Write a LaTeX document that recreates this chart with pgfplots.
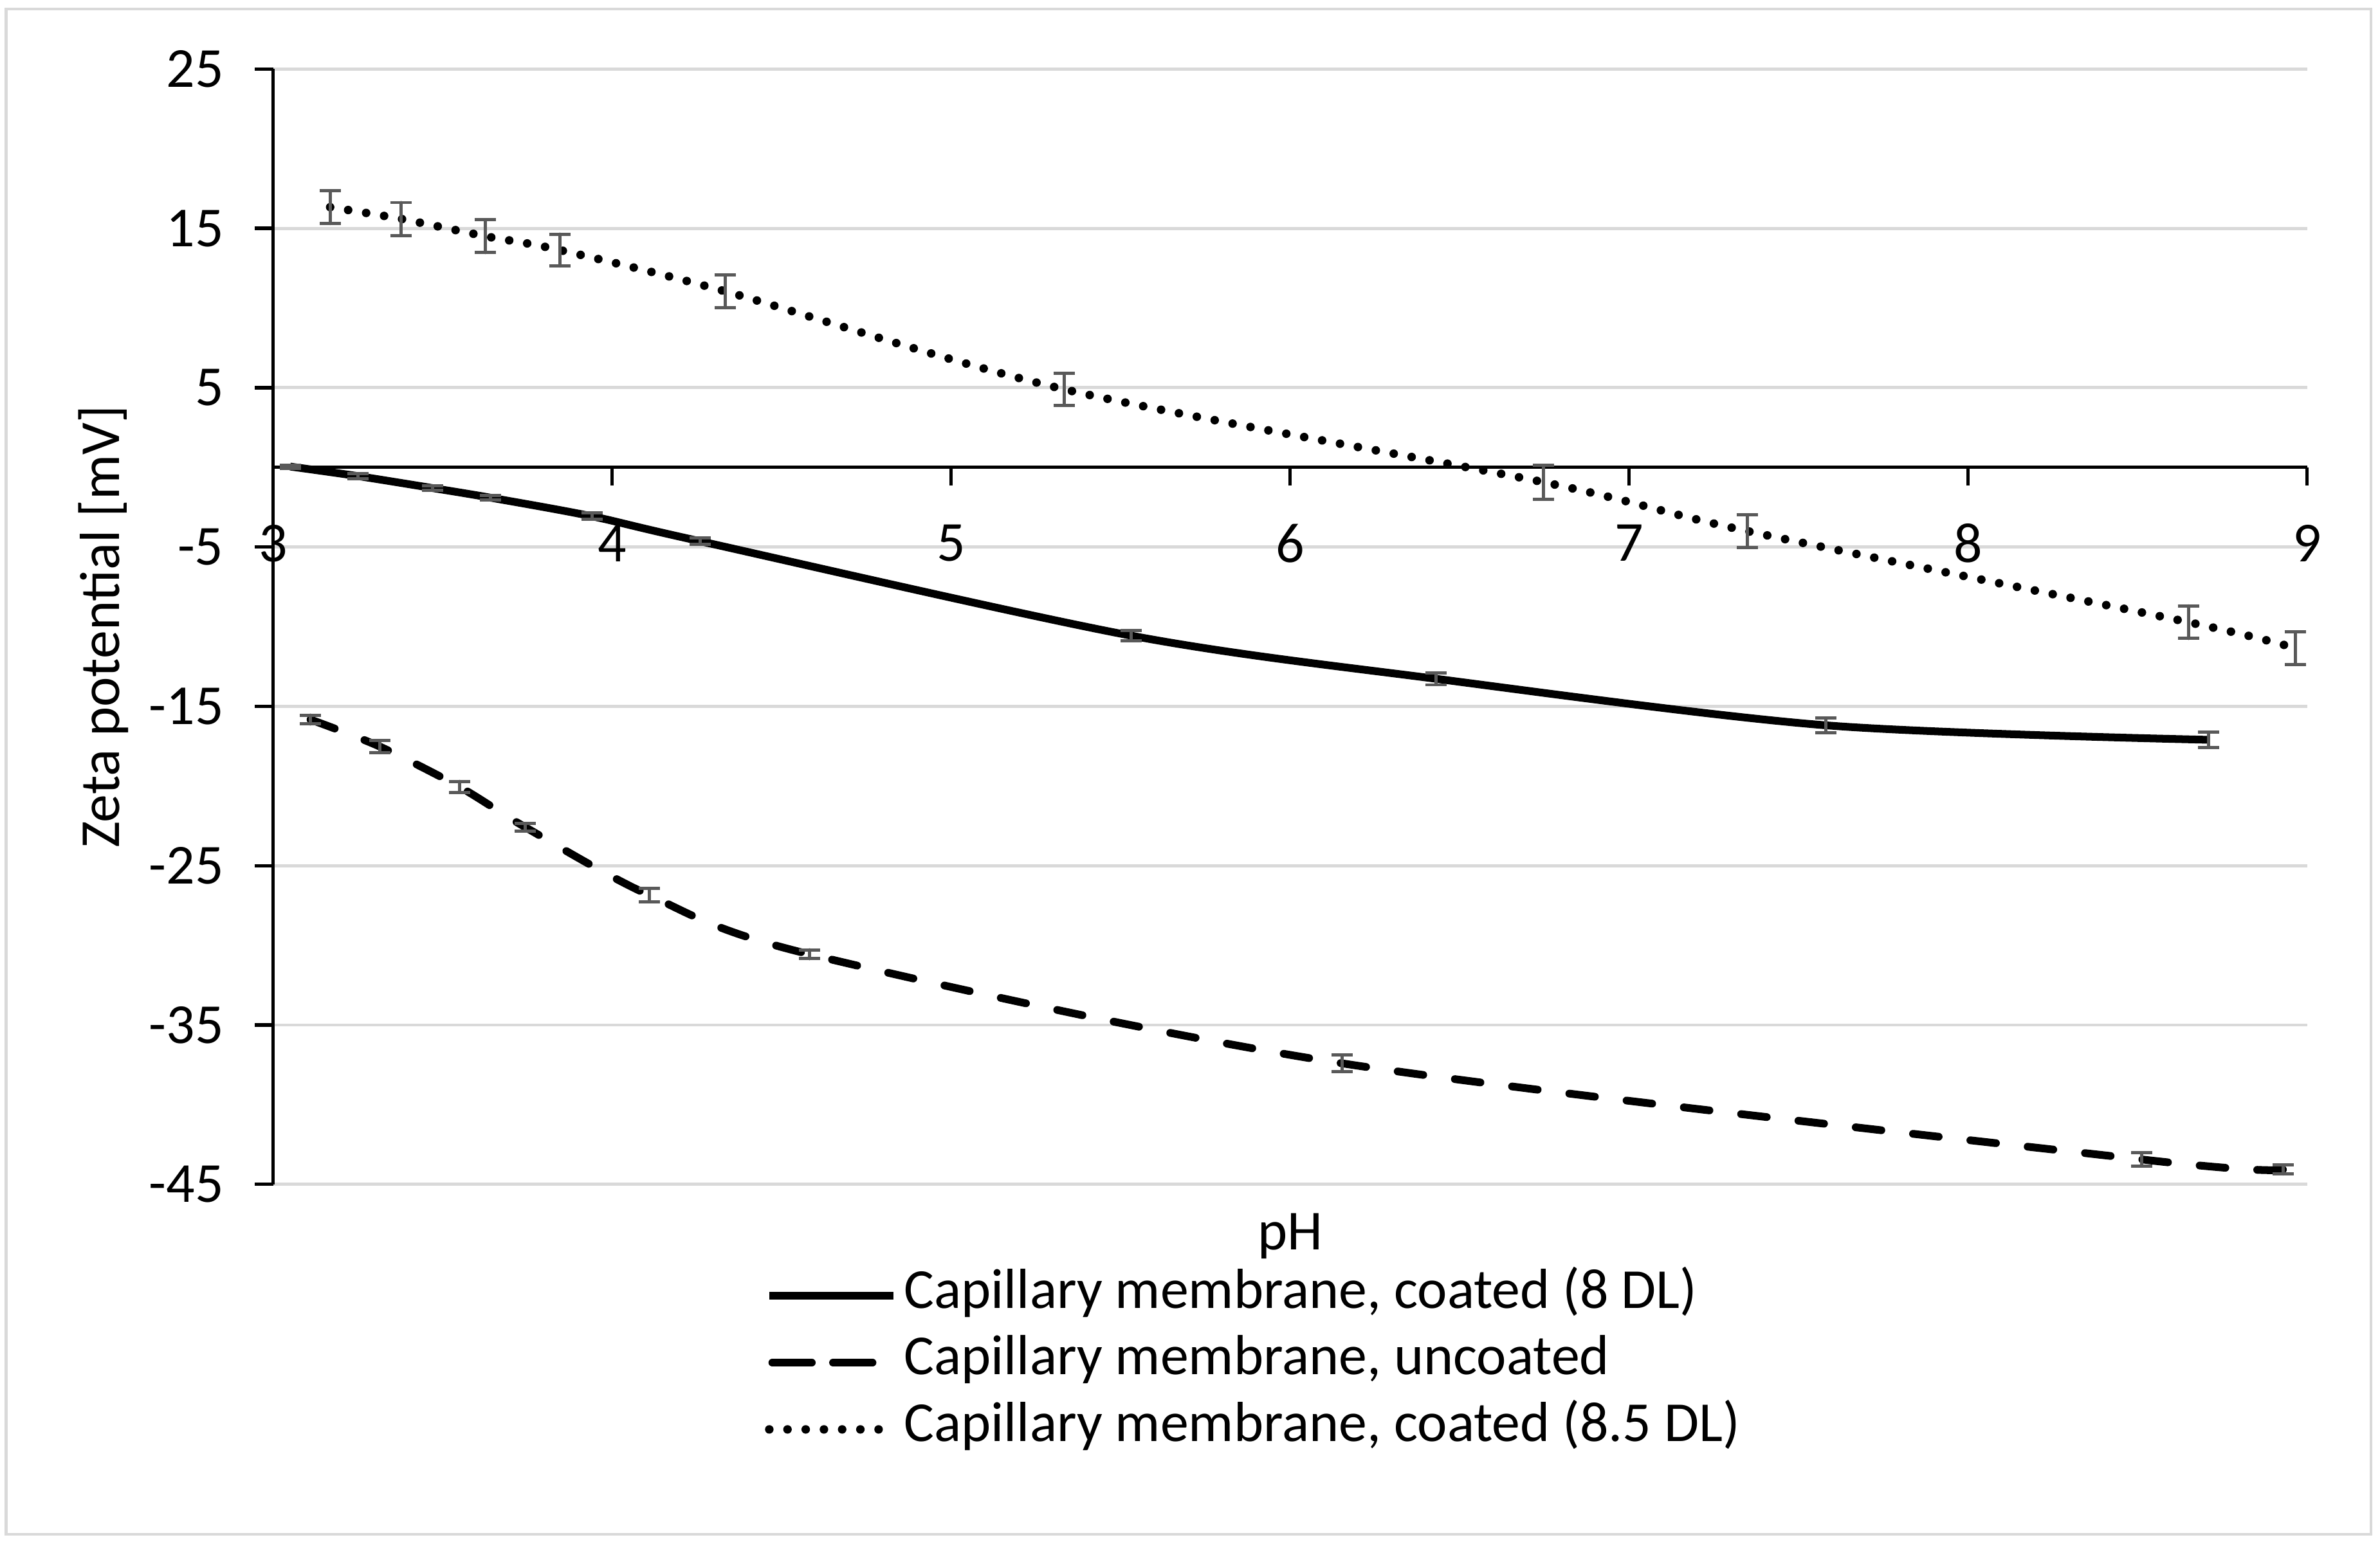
\documentclass[border=0pt]{standalone}
\usepackage{pgfplots}
\pgfplotsset{compat=1.18}
\usepackage{pgfplotstable}
\usepackage{fontspec}
\setmainfont{Carlito}
\definecolor{gridgray}{HTML}{D9D9D9}
\definecolor{errgray}{HTML}{595959}

\pgfplotsset{dashlegend/.style={legend image code/.code={\draw[black, line width=1.45pt, line cap=round, dash pattern=on 2.6mm off 1.4mm] (0.2mm,0mm) -- (8.0mm,0mm);}}}

\pgfplotstableread{
x y e
3.05 0.05 0.10
3.25 -0.55 0.15
3.47 -1.30 0.15
3.64 -1.90 0.15
3.94 -3.07 0.20
4.26 -4.64 0.20
5.53 -10.56 0.34
6.43 -13.27 0.38
7.58 -16.19 0.45
8.71 -17.10 0.48
}\coatedA

\pgfplotstableread{
x y e
3.110 -15.83 0.28
3.315 -17.53 0.38
3.550 -20.06 0.35
3.744 -22.59 0.23
4.109 -26.85 0.42
4.582 -30.56 0.28
6.154 -37.41 0.52
8.512 -43.44 0.42
8.929 -44.07 0.28
}\uncoated

\pgfplotstableread{
x y e
3.168 16.33 1.03
3.378 15.59 1.03
3.625 14.51 1.03
3.845 13.64 1.00
4.333 11.05 1.03
5.333 4.90 1.00
6.747 -0.93 1.06
7.348 -4.00 1.02
8.650 -9.72 1.02
8.965 -11.35 1.03
}\coatedB

\begin{document}
\begin{tikzpicture}
\useasboundingbox (-18mm,-23.55mm) rectangle (138.8mm,78.05mm);
\draw[gridgray, line width=0.5pt] (-17.6mm,-23.05mm) rectangle (138.2mm,77.45mm);
\begin{axis}[
  scale only axis, width=134mm, height=73.5mm,
  xmin=3, xmax=9, ymin=-45, ymax=25,
  axis x line*=middle, axis y line*=left,
  hide obscured x ticks=false,
  xtick={3,4,5,6,7,8,9}, ytick={-45,-35,-25,-15,-5,5,15,25},
  ymajorgrids, grid style={gridgray, line width=0.6pt},
  axis line style={black, line width=0.65pt, -},
  tick style={black, line width=0.65pt},
  tick align=outside, major tick length=1.2mm,
  font=\fontsize{10.6}{12.7}\selectfont,
  /pgf/number format/assume math mode=true,
  yticklabel style={anchor=east, inner sep=0pt, xshift=-2.0mm},
  xticklabel style={anchor=center, inner sep=0pt, yshift=-3.8mm},
  xlabel={pH}, ylabel={Zeta potential [mV]},
  xlabel style={at={(axis description cs:0.5,0)}, anchor=center, yshift=-3.4mm},
  ylabel style={at={(axis description cs:0,0.5)}, anchor=center, yshift=11.2mm},
  clip=false,
  legend style={at={(axis description cs:0.2418,-0.0701)}, anchor=north west,
    draw=none, fill=none, inner sep=0pt, outer sep=0pt, row sep=0pt, column sep=0.4mm,
    nodes={inner sep=0pt, text height=3.0mm, text depth=1.4mm},
    font=\fontsize{10.6}{12.7}\selectfont},
  legend cell align=left,
  legend image code/.code={\draw[#1] (0mm,0mm) -- (8.2mm,0mm);},
  every axis plot/.append style={
    error bars/error bar style={errgray, line width=0.6pt, solid},
    error bars/error mark options={errgray, line width=0.6pt, mark size=0.7mm, solid, rotate=90}},
]
\addplot[black, line width=1.45pt, smooth,
  error bars/.cd, y dir=both, y explicit]
  table[x=x, y=y, y error=e]{\coatedA};
\addlegendentry{Capillary membrane, coated (8 DL)}
\addplot[black, line width=1.45pt, smooth, line cap=round, dash pattern=on 1.7mm off 2.1mm,
  dashlegend,
  error bars/.cd, y dir=both, y explicit]
  table[x=x, y=y, y error=e]{\uncoated};
\addlegendentry{Capillary membrane, uncoated}
\addplot[black, line width=1.6pt, smooth, line cap=round, dash pattern=on 0pt off 1.2mm,
  error bars/.cd, y dir=both, y explicit]
  table[x=x, y=y, y error=e]{\coatedB};
\addlegendentry{Capillary membrane, coated (8.5 DL)}
\end{axis}
\end{tikzpicture}
\end{document}
